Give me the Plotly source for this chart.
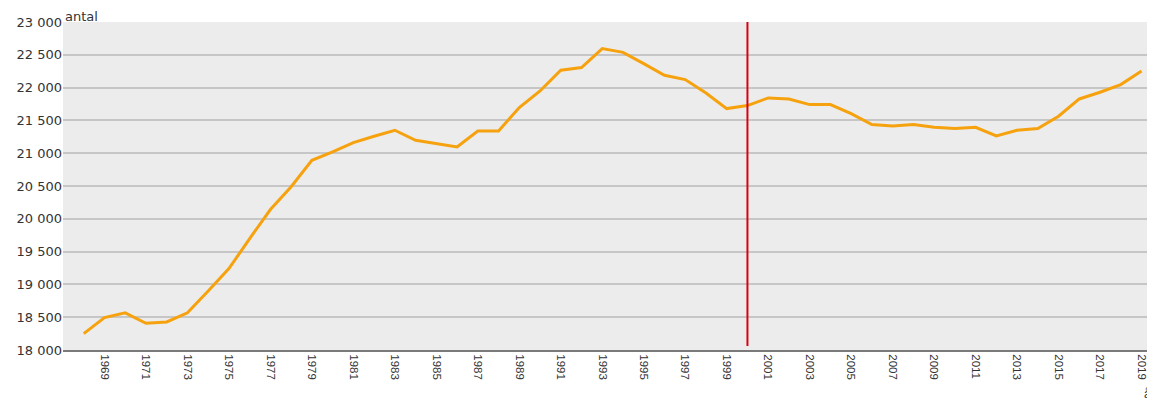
import plotly.graph_objects as go

years = list(range(1968, 2020))
values = [18250, 18495, 18566, 18408, 18428, 18566, 18900, 19241, 19699, 20141,
          20490, 20892, 21019, 21162, 21258, 21350, 21197, 21147, 21095, 21339,
          21339, 21695, 21949, 22264, 22305, 22594, 22538, 22366, 22188, 22122,
          21918, 21680, 21726, 21842, 21827, 21741, 21741, 21604, 21436, 21415,
          21436, 21395, 21375, 21395, 21263, 21350, 21375, 21563, 21827, 21929,
          22046, 22253]
tick_years = list(range(1969, 2020, 2))
y_ticks = [18000, 18500, 19000, 19500, 20000, 20500, 21000, 21500, 22000, 22500, 23000]
marker_year = 2000
y_label = "antal"
x_label = "år"

fig = go.Figure()
fig.add_trace(go.Scatter(x=years, y=values, mode="lines",
                         line=dict(color="#f6a20f", width=3), hoverinfo="x+y"))

fig.add_shape(type="line", x0=marker_year, x1=marker_year, y0=18060, y1=23000,
              xref="x", yref="y", line=dict(color="#d90012", width=2))

fig.update_layout(
    width=1147, height=397,
    margin=dict(l=55, r=0, t=14, b=55),
    paper_bgcolor="white", plot_bgcolor="#ececec",
    separators=". ",
    showlegend=False,
    font=dict(family="DejaVu Sans, Arial, sans-serif", color="#333333"),
    xaxis=dict(range=[1967.0, 2019.65], tickvals=tick_years,
               ticktext=[str(y) for y in tick_years], tickangle=90,
               showgrid=False, zeroline=False, showline=True,
               linecolor="#7a7a7a", linewidth=2, ticks="",
               tickfont=dict(size=11.5, family="Liberation Sans, Arial, sans-serif",
                             color="#333333")),
    yaxis=dict(range=[18000, 23000], tickvals=y_ticks, tickformat=",d",
               showgrid=True, gridcolor="#c6c6c6", gridwidth=1.5,
               zeroline=False, showline=False, ticks="",
               tickfont=dict(size=13, color="#333333")),
    annotations=[
        dict(text=y_label, xref="paper", yref="paper", x=0.0, y=1.0,
             xanchor="left", yanchor="bottom", showarrow=False, xshift=1, yshift=-3,
             borderpad=0, font=dict(size=13, color="#333333")),
        dict(text=x_label, xref="paper", yref="paper", x=1.0, y=0,
             xanchor="left", yanchor="top", showarrow=False, xshift=-12, yshift=-36,
             borderpad=0,
             font=dict(size=12, color="#333333",
                       family="Liberation Sans, Arial, sans-serif")),
    ],
)

fig.write_html("out.html")
